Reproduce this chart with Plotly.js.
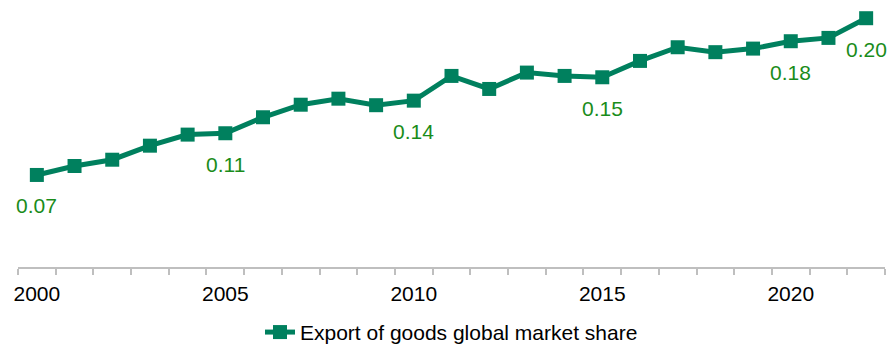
<!DOCTYPE html>
<html>
<head>
<meta charset="utf-8">
<script src="https://cdn.plot.ly/plotly-3.0.1.min.js"></script>
<style>html,body{margin:0;padding:0;background:#fff;}#chart{width:887px;height:345px;}</style>
</head>
<body>
<div id="chart"></div>
<script>
const years = [2000,2001,2002,2003,2004,2005,2006,2007,2008,2009,2010,2011,2012,2013,2014,2015,2016,2017,2018,2019,2020,2021,2022];
const share = [0.0748,0.0821,0.0872,0.0986,0.1076,0.1087,0.1217,0.1319,0.1368,0.1315,0.1352,0.1553,0.1447,0.1580,0.1553,0.1542,0.1675,0.1786,0.1746,0.1775,0.1835,0.1862,0.2022];
const labelYears = [2000,2005,2010,2015,2020,2022];
const tickYears = [2000,2005,2010,2015,2020];
const seriesName = "Export of goods global market share";

const lineColor = "#00805e";
const labelColor = "#1a8c1a";
const font = "Liberation Sans, Arial, sans-serif";

const annotations = labelYears.map(function(yr){
  const v = share[years.indexOf(yr)];
  return {x: yr, y: v, xref: "x", yref: "y", text: v.toFixed(2), showarrow: false,
          yanchor: "middle", xanchor: "center", yshift: -31,
          font: {family: font, size: 21, color: labelColor}};
});

const trace = {
  x: years, y: share, type: "scatter", mode: "lines+markers", name: seriesName,
  line: {color: lineColor, width: 5},
  marker: {symbol: "square", size: 14, color: lineColor},
  cliponaxis: false
};

const layout = {
  width: 887, height: 345,
  margin: {l: 18, r: 2, t: 0, b: 78, autoexpand: false},
  paper_bgcolor: "#fff", plot_bgcolor: "#fff",
  font: {family: font, size: 21, color: "#000"},
  showlegend: true,
  legend: {orientation: "h", x: 0.5, xanchor: "center", y: -0.245, yanchor: "middle",
           font: {family: font, size: 21, color: "#000"}},
  xaxis: {
    type: "linear", range: [1999.5, 2022.5], tickvals: tickYears, ticktext: tickYears.map(String),
    ticks: "", showgrid: false, zeroline: false,
    showline: true, linecolor: "#bfbfbf", linewidth: 2,
    ticklabelstandoff: 7,
    minor: {ticks: "outside", tick0: 1999.5, dtick: 1, ticklen: 6, tickcolor: "#bfbfbf", tickwidth: 2, showgrid: false},
    tickfont: {family: font, size: 21, color: "#000"}
  },
  yaxis: {range: [0, 0.217], visible: false, showgrid: false, zeroline: false},
  annotations: annotations
};

Plotly.newPlot("chart", [trace], layout, {displayModeBar: false, staticPlot: true});
</script>
</body>
</html>
